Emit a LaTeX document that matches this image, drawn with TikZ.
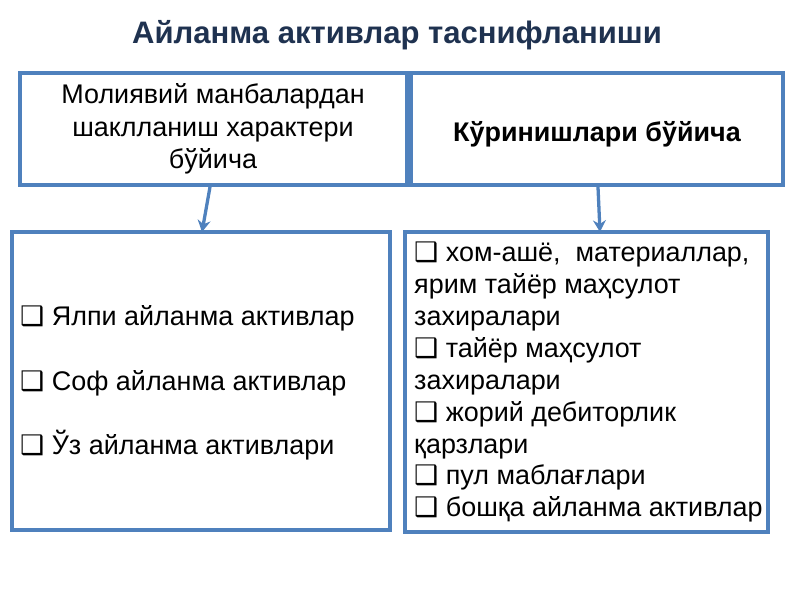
\documentclass[tikz,border=0pt]{standalone}
\usepackage{fontspec}
\setmainfont{Liberation Sans}
\newfontfamily\dejavu{DejaVu Sans}
\usetikzlibrary{arrows.meta}
\definecolor{boxblue}{RGB}{79,129,189}
\definecolor{titleblue}{RGB}{31,50,80}
\newcommand{\chk}{{\dejavu\char"2751}}
\begin{document}
\begin{tikzpicture}[x=0.03cm,y=-0.03cm]
    \tikzset{
        frame/.style={draw=boxblue, line width=2.8pt},
        line/.style={draw=boxblue, line width=2.8pt, -{Stealth[length=10pt,width=11pt]}},
        txt/.style={font=\fontsize{23}{27.5}\selectfont, inner sep=0pt},
    };
    \useasboundingbox (0,0) rectangle (800,600);
    \node [font=\fontsize{26.5}{30}\selectfont\bfseries, text=titleblue] (title) at (397,35) {Айланма активлар таснифланиши};

    \draw [frame] (20,73) rectangle (407,185);
    \node [txt, align=center] (src) at (213,129) {Молиявий манбалардан\\шаклланиш характери\\бўйича};
    \draw [frame] (411,73) rectangle (783,185);
    \node [txt, font=\fontsize{23}{27.5}\selectfont\bfseries] (kind) at (597,134) {Кўринишлари бўйича};

    \coordinate (leftbot) at (210,187);
    \coordinate (rightbot) at (598,187);

    \draw [frame] (12,232) rectangle (390,530);
    \coordinate (lefttop) at (202,232);
    \node [txt, align=left, anchor=west, font=\fontsize{23}{27.5}\selectfont] (leftlist) at (20,383) {\chk{} Ялпи айланма активлар\\[27.5pt]\chk{} Соф айланма активлар\\[27.5pt]\chk{} Ўз айланма активлари};

    \draw [frame] (405,232) rectangle (768,532);
    \coordinate (righttop) at (600,232);
    \node [txt, align=left, anchor=north west, font=\fontsize{23}{27.2}\selectfont] (rightlist) at (414,242) {\chk{} хом-ашё,\ \ материаллар,\\ярим тайёр маҳсулот\\захиралари\\\chk{} тайёр маҳсулот\\захиралари\\\chk{} жорий дебиторлик\\қарзлари\\\chk{} пул маблағлари\\\chk{} бошқа айланма активлар};

    \path [line] (leftbot) -- (lefttop);
    \path [line] (rightbot) -- (righttop);
\end{tikzpicture}
\end{document}
